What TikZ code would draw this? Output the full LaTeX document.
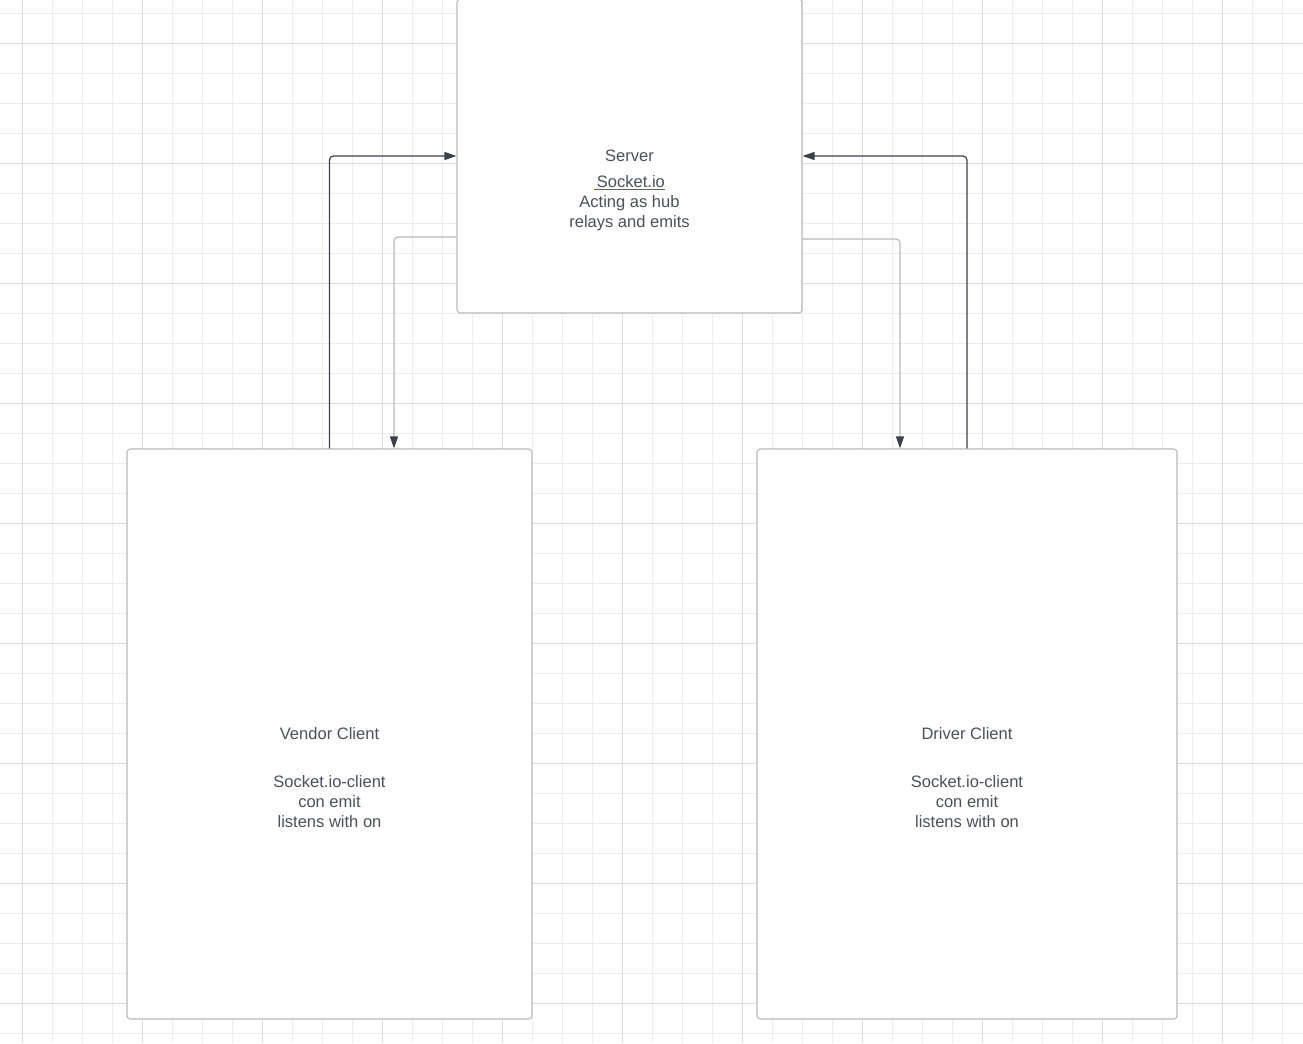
\documentclass[tikz,border=0pt]{standalone}
\usepackage{fontspec}
\setmainfont{Liberation Sans}
\usetikzlibrary{calc}
\usetikzlibrary{arrows.meta}

\definecolor{gridminor}{HTML}{EDEDED}
\definecolor{gridmajor}{HTML}{DCDCDC}
\definecolor{boxline}{HTML}{B9B9C0}
\definecolor{wiredark}{HTML}{3A414A}
\definecolor{txtgray}{HTML}{4B5059}
\definecolor{linkblue}{HTML}{5050F0}

\newcommand\linkline[1]{\setbox0\hbox{\,#1}\rlap{\textcolor{linkblue}{\rule[-2.2pt]{\wd0}{0.7pt}}}\box0}

\tikzset{
  minorline/.style={draw=gridminor, line width=0.75pt},
  majorline/.style={draw=gridmajor, line width=0.75pt},
  box/.style={draw=boxline, fill=white, rounded corners=2.5pt, inner sep=0pt, line width=0.8pt},
  txt/.style={text=txtgray, align=center, inner sep=0pt,
    font=\fontsize{12.4}{15}\selectfont},
  wire/.style={draw=wiredark, line width=0.9pt, rounded corners=3pt,
    -{Triangle[length=9pt,width=6pt,color=wiredark]}},
  wirelight/.style={wire, draw=boxline},
}

\begin{document}
\begin{tikzpicture}[x=0.75pt, y=-0.75pt]
    \fill[white] (0,0) rectangle (1303,1043);
    \useasboundingbox (0,0) rectangle (1303,1043);

    % grid
    \foreach \gx in {22,52,...,1302}
      \draw[minorline] (\gx,0) -- (\gx,1043);
    \foreach \gy in {13,43,...,1042}
      \draw[minorline] (0,\gy) -- (1303,\gy);
    \foreach \gx in {22,142,...,1302}
      \draw[majorline] (\gx,0) -- (\gx,1043);
    \foreach \gy in {43,163,...,1042}
      \draw[majorline] (0,\gy) -- (1303,\gy);

    % boxes
    \node[box, minimum width=258.75pt, minimum height=235.5pt] (server) at (629.5,156) {};
    \node[box, minimum width=303.75pt, minimum height=427.5pt] (vendor) at (329.5,734) {};
    \node[box, minimum width=315pt, minimum height=427.5pt] (driver) at (967,734) {};

    % texts
    \node[txt] (servertitle) at (629.5,156) {Server};
    \node[txt] (serverbody) at (629.5,203) {\linkline{Socket.io}\\Acting as hub\\relays and emits};
    \node[txt] (vendortitle) at (329.5,734) {Vendor Client};
    \node[txt] (vendorbody) at (329.5,802) {Socket.io-client\\con emit\\listens with on};
    \node[txt] (drivertitle) at (967,734) {Driver Client};
    \node[txt] (driverbody) at (967,802) {Socket.io-client\\con emit\\listens with on};

    % connectors
    \draw[wire] (vendor.north) |- (server.west);
    \draw[wirelight] ($(server.west)+(0,81)$) -| ($(vendor.north)+(64.5,0)$);
    \draw[wire] (driver.north) |- (server.east);
    \draw[wirelight] ($(server.east)+(0,83)$) -| ($(driver.north)+(-67,0)$);
  \end{tikzpicture}
\end{document}
